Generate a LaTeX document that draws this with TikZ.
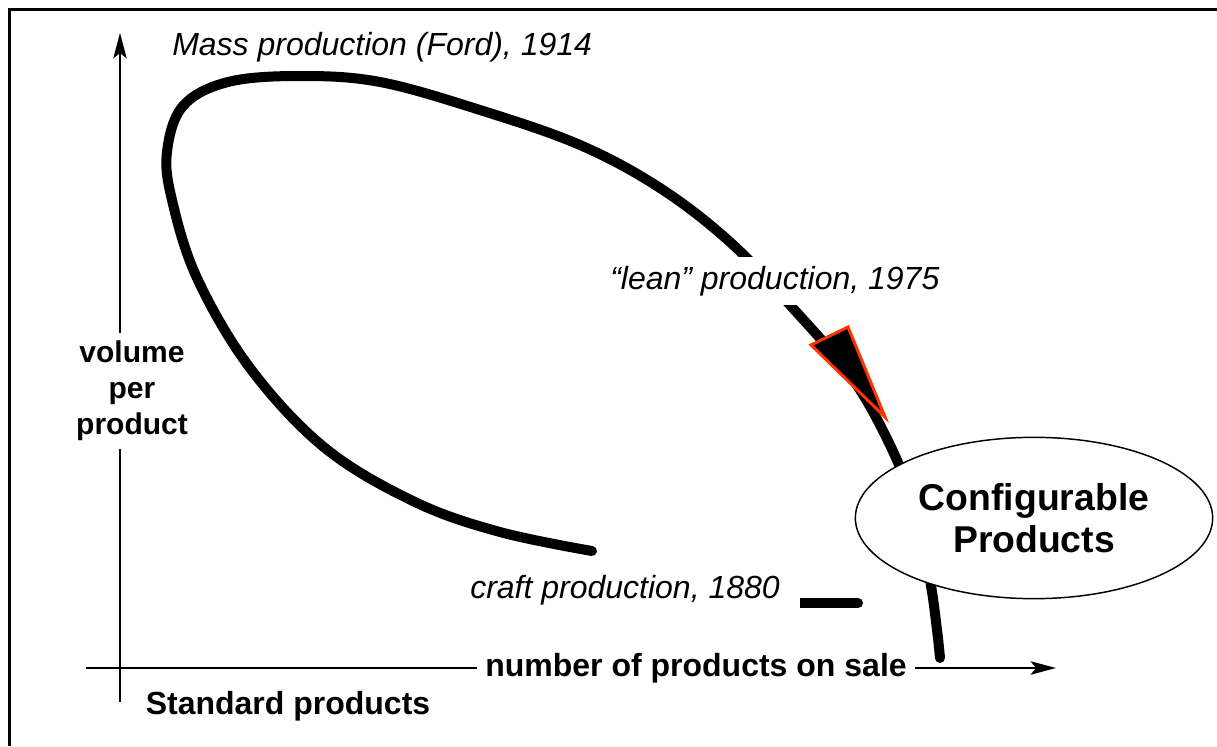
\documentclass[tikz,border=0pt]{standalone}
\usepackage{xcolor}
\usepackage{fontspec}
\setmainfont{Liberation Sans}
\usepackage{tikz}
\usetikzlibrary{
  arrows,
  arrows.meta,
  positioning,
  calc,
  shapes}
\definecolor{tipred}{RGB}{255,51,0}
\tikzset{every picture/.style={font issue=\fontsize{24}{29}},
         font issue/.style={execute at begin picture={#1\selectfont}}
        }

\begin{document}
\begin{tikzpicture}[x=0.75pt, y=-0.75pt,
  axis/.style={line width=1.5pt, -{Stealth[length=19pt, width=10pt, inset=4pt]}},
  path line/.style={line width=7.5pt, line cap=round, line join=round},
  era/.style={font=\itshape, fill=white, inner xsep=3pt, inner ysep=7pt},
  lbl/.style={font=\bfseries, fill=white, inner sep=6pt, align=center}]

\useasboundingbox (0,0) rectangle (1217,746);

%frame
\draw[line width=2.25pt] (9,746) -- (9,9) -- (1217,9);

%axes
\coordinate (zero) at (120,668);
\coordinate (xstart) at (86,668);
\coordinate (xend) at (1056,668);
\coordinate (ystart) at (120,702);
\coordinate (yend) at (120,33);
\draw[axis] (xstart) -- (xend);
\draw[axis] (ystart) -- (yend);

%the cycle
\draw[path line] plot[smooth, tension=0.6] coordinates {
  (592,551) (500,532) (415,502) (325,448) (250,368) (197,278)
  (172,200) (167,152) (183,106) (228,82) (300,76) (380,82)
  (480,110) (580,145) (660,188) (730,242) (790,305) (850,375)
  (890,445) (915,510) (930,580) (937,630) (940,658)};
\draw[path line, line cap=butt] (800,603) -- (858,603);
\fill[black] (858,603) circle (3.75pt);

%arrow on the cycle
\coordinate (t0) at (811,345);
\coordinate (t1) at (848,327);
\coordinate (t2) at (885,417);
\filldraw[fill=black, draw=tipred, line width=2.25pt, line join=miter] (t0) -- (t1) -- (t2) -- cycle;

\node[era, anchor=west] (mass) at (168,47) {Mass production (Ford), 1914};
\node[era, anchor=west] (lean) at (606,281) {``lean'' production, 1975};
\node[era, anchor=west] (craft) at (466,590) {craft production, 1880};

\node[lbl, font=\fontsize{22.5}{27}\bfseries] (volume) at (132,391) {volume\\per\\product};
\node[lbl, fill=none] (standard) at (288,706) {Standard products};
\node[lbl] (number) at (696,668) {number of products on sale};

\node[draw, ellipse, fill=white, line width=1.1pt, minimum width=268pt, minimum height=121pt,
      font=\fontsize{28}{31.5}\bfseries, align=center, inner sep=0pt] (config) at (1034,518) {Configurable\\Products};

\end{tikzpicture}
\end{document}
